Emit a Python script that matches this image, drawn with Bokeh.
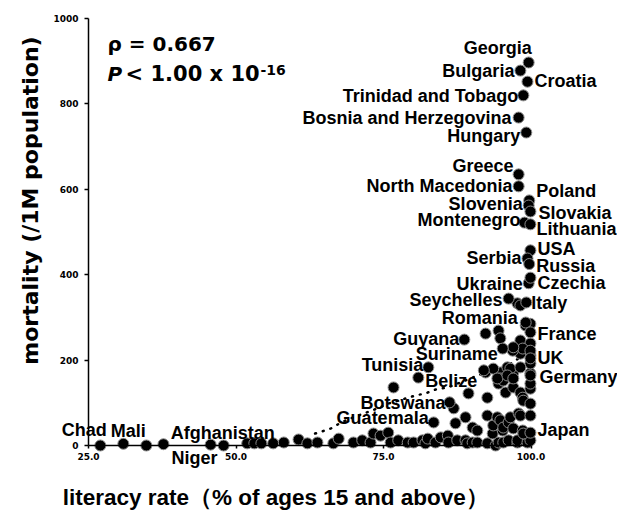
import math
from bokeh.plotting import figure
from bokeh.models import Range1d, FixedTicker, Label, LinearAxis
from bokeh.embed import file_html
from bokeh.resources import INLINE

# ---------------- data ----------------
labeled_countries = [
    "Georgia", "Bulgaria", "Croatia", "Trinidad and Tobago", "Bosnia and Herzegovina",
    "Hungary", "Greece", "North Macedonia", "Poland", "Slovenia", "Slovakia",
    "Montenegro", "Lithuania", "USA", "Serbia", "Russia", "Ukraine", "Czechia",
    "Seychelles", "Italy", "Romania", "France", "Guyana", "Suriname", "Tunisia",
    "Belize", "Botswana", "Guatemala", "UK", "Germany", "Japan",
    "Chad", "Mali", "Afghanistan", "Niger",
]
labeled_literacy = [
    99.6, 98.2, 99.4, 98.7, 97.9,
    99.2, 97.9, 97.9, 99.7, 99.6, 99.9,
    98.9, 99.9, 99.9, 99.4, 99.7, 99.6, 99.9,
    96.2, 99.2, 99.1, 99.9, 88.7, 95.2, 82.6,
    80.9, 86.2, 83.5, 99.9, 99.9, 99.9,
    27.0, 30.9, 45.7, 37.7,
]
labeled_mortality = [
    897, 878, 852, 820, 768,
    733, 635, 607, 574, 562, 548,
    522, 518, 457, 438, 425, 380, 393,
    344, 335, 288, 265, 248, 227, 183,
    159, 101, 54, 204, 164, 30,
    0, 4, 2, 3,
]

other_literacy = [
    34.8, 47.9, 51.9, 53.1, 54.3, 56.3, 58.1, 60.6, 62.1, 63.8, 66.5, 67.4,
    69.9, 71.4, 72.8, 73.3, 74.5, 75.8, 76.2, 77.5, 79.1, 80.1, 81.6, 82.1,
    82.5, 83.8, 84.7, 85.9, 86.0, 87.5, 88.9, 89.2, 90.1, 90.9, 92.6, 94.0,
    94.5, 95.3, 96.2, 97.7, 97.7, 99.4, 99.9,
    76.7, 89.4, 86.9, 88.9, 87.2, 90.1, 90.9, 92.6, 93.5, 93.6, 94.3, 94.8,
    95.2, 95.3, 96.2, 96.5, 97.0, 97.9, 98.2, 98.6, 98.7, 99.9,
    92.6, 94.5, 95.7, 97.0, 98.2, 98.6, 98.7, 99.9, 99.9, 99.9, 99.9, 99.9,
    99.9, 98.2, 98.7, 97.0, 94.8, 92.3, 93.6, 96.0, 94.8, 95.3, 92.0, 96.5,
    98.2, 94.3, 96.0, 97.0,
    92.3, 94.5, 94.8, 98.2, 99.9, 98.6, 99.9, 96.9, 97.0, 99.1, 97.7, 98.2,
    99.9,
]
other_mortality = [
    0, 0, 5, 5, 5, 5, 7, 14, 5, 7, 5, 16,
    7, 12, 7, 28, 23, 30, 7, 12, 7, 7, 12, 5,
    16, 7, 19, 23, 7, 12, 12, 5, 7, 7, 5, 0,
    7, 7, 12, 7, 12, 7, 12,
    136, 122, 87, 66, 52, 42, 35, 70, 28, 47, 66, 59,
    35, 42, 54, 66, 40, 75, 70, 35, 28, 70,
    112, 145, 124, 136, 124, 112, 105, 98, 133, 145, 169, 192,
    211, 215, 230, 171, 171, 171, 180, 183, 157, 152, 176, 180,
    183, 157, 164, 157,
    262, 269, 251, 246, 239, 227, 222, 222, 230, 281, 333, 328,
    285,
]

trend_literacy = [63.4, 64.6, 66.1, 67.2, 68.6, 74.0, 75.8, 80.4, 82.1, 83.8, 85.9, 92.3, 96.0, 97.9]
trend_mortality = [28, 33, 40, 49, 59, 87, 98, 117, 122, 131, 136, 171, 187, 204]

x_ticks = [25, 50, 75, 100]
x_tick_labels = ["25.0", "50.0", "75.0", "100.0"]
y_ticks = [0, 200, 400, 600, 800, 1000]

x_title = "literacy rate（% of ages 15 and above）"
y_title = "mortality (/1M population)"
rho_text = "ρ = 0.667"
p_letter = "P"
p_text = "< 1.00 x 10"
p_exp = "-16"

# ---------------- label placement (px offsets, alignment) ----------------
label_place = {
    "Georgia": (-31, 14, "center"),
    "Bulgaria": (-6, 0, "right"),
    "Croatia": (7, 1, "left"),
    "Trinidad and Tobago": (-5, -1, "right"),
    "Bosnia and Herzegovina": (-7, 0, "right"),
    "Hungary": (-6, -3, "right"),
    "Greece": (-5, 8, "right"),
    "North Macedonia": (-6, 0, "right"),
    "Poland": (7, 9, "left"),
    "Slovenia": (-6, 2, "right"),
    "Slovakia": (8, -1, "left"),
    "Montenegro": (-4, 3, "right"),
    "Lithuania": (6, -5, "left"),
    "USA": (7, 1, "left"),
    "Serbia": (-6, 0, "right"),
    "Russia": (7, -2, "left"),
    "Ukraine": (-6, -1, "right"),
    "Czechia": (7, -5, "left"),
    "Seychelles": (-6, -1, "right"),
    "Italy": (5, -1, "left"),
    "Romania": (-8, 5, "right"),
    "France": (7, -2, "left"),
    "Guyana": (-5, 1, "right"),
    "Suriname": (-5, -5, "right"),
    "Tunisia": (-5, 2, "right"),
    "Belize": (7, -3, "left"),
    "Botswana": (-4, -1, "right"),
    "Guatemala": (-5, 4, "right"),
    "UK": (7, 0, "left"),
    "Germany": (9, -2, "left"),
    "Japan": (7, 3, "left"),
    "Chad": (-16, 15, "center"),
    "Mali": (5, 13, "center"),
    "Afghanistan": (12, 12, "center"),
    "Niger": (31, -14, "center"),
}

# ---------------- figure ----------------
# the plotting frame covers the whole canvas; axes are drawn at fixed locations
p = figure(width=617, height=511,
           x_range=Range1d(10.08, 114.66), y_range=Range1d(-154.6, 1042.2),
           output_backend="svg", toolbar_location=None,
           x_axis_type=None, y_axis_type=None,
           min_border_left=0, min_border_right=0, min_border_top=0, min_border_bottom=0)
p.outline_line_color = None
p.background_fill_color = "white"
p.border_fill_color = "white"

TICK_FONT = "DejaVu Sans"
xaxis = LinearAxis(fixed_location=0, bounds=(25, 100),
                   ticker=FixedTicker(ticks=x_ticks),
                   major_label_overrides={t: s for t, s in zip(x_ticks, x_tick_labels)})
yaxis = LinearAxis(fixed_location=25, bounds=(0, 1000),
                   ticker=FixedTicker(ticks=y_ticks))
for ax, tick_out, standoff in ((xaxis, 3, 5), (yaxis, 4, 6)):
    ax.axis_line_color = "black"
    ax.axis_line_width = 1.5
    ax.major_tick_line_color = "black"
    ax.major_tick_line_width = 1.5
    ax.major_tick_out = tick_out
    ax.major_tick_in = 0
    ax.minor_tick_line_color = None
    ax.major_label_text_font = TICK_FONT
    ax.major_label_text_font_style = "bold"
    ax.major_label_text_font_size = "9px"
    ax.major_label_text_color = "black"
    ax.major_label_standoff = standoff
p.add_layout(xaxis, "below")
p.add_layout(yaxis, "left")

# trend line
p.line(trend_literacy, trend_mortality, line_color="black", line_width=2.5,
       line_dash="1 7", line_cap="round")

# points
p.scatter(other_literacy + labeled_literacy, other_mortality + labeled_mortality,
          size=11, fill_color="black", line_color="#8c8c8c", line_width=1)

# country labels
for name, lx, ly in zip(labeled_countries, labeled_literacy, labeled_mortality):
    dx, dy, align = label_place[name]
    p.add_layout(Label(x=lx, y=ly, x_offset=dx, y_offset=dy, text=name,
                       text_align=align, text_baseline="middle",
                       text_font="Liberation Sans", text_font_style="bold",
                       text_font_size="18px", text_color="black"))

# statistics annotation (anchored at the axis corner 25 / 1000)
ANN_FONT = "DejaVu Sans"
p.add_layout(Label(x=25, y=1000, x_offset=19, y_offset=-25, text=rho_text,
                   text_align="left", text_baseline="middle", text_font=ANN_FONT,
                   text_font_style="bold", text_font_size="20px", text_color="black"))
p.add_layout(Label(x=25, y=1000, x_offset=19, y_offset=-55, text=p_letter,
                   text_align="left", text_baseline="middle", text_font=ANN_FONT,
                   text_font_style="bold italic", text_font_size="20px", text_color="black"))
p.add_layout(Label(x=25, y=1000, x_offset=37, y_offset=-55, text=p_text,
                   text_align="left", text_baseline="middle", text_font=ANN_FONT,
                   text_font_style="bold", text_font_size="21px", text_color="black"))
p.add_layout(Label(x=25, y=1000, x_offset=172, y_offset=-51, text=p_exp,
                   text_align="left", text_baseline="middle", text_font=ANN_FONT,
                   text_font_style="bold", text_font_size="14px", text_color="black"))

# axis titles
p.add_layout(Label(x=25, y=500, x_offset=-58, y_offset=31.5, angle=math.pi / 2,
                   text=y_title, text_align="center", text_baseline="middle",
                   text_font=ANN_FONT, text_font_style="bold", text_font_size="22px",
                   text_color="black"))
p.add_layout(Label(x=62.5, y=0, x_offset=-34, y_offset=-52, text=x_title,
                   text_align="center", text_baseline="middle",
                   text_font="Liberation Sans", text_font_style="bold",
                   text_font_size="22.5px", text_color="black"))

open("out.html", "w").write(file_html(p, INLINE))
